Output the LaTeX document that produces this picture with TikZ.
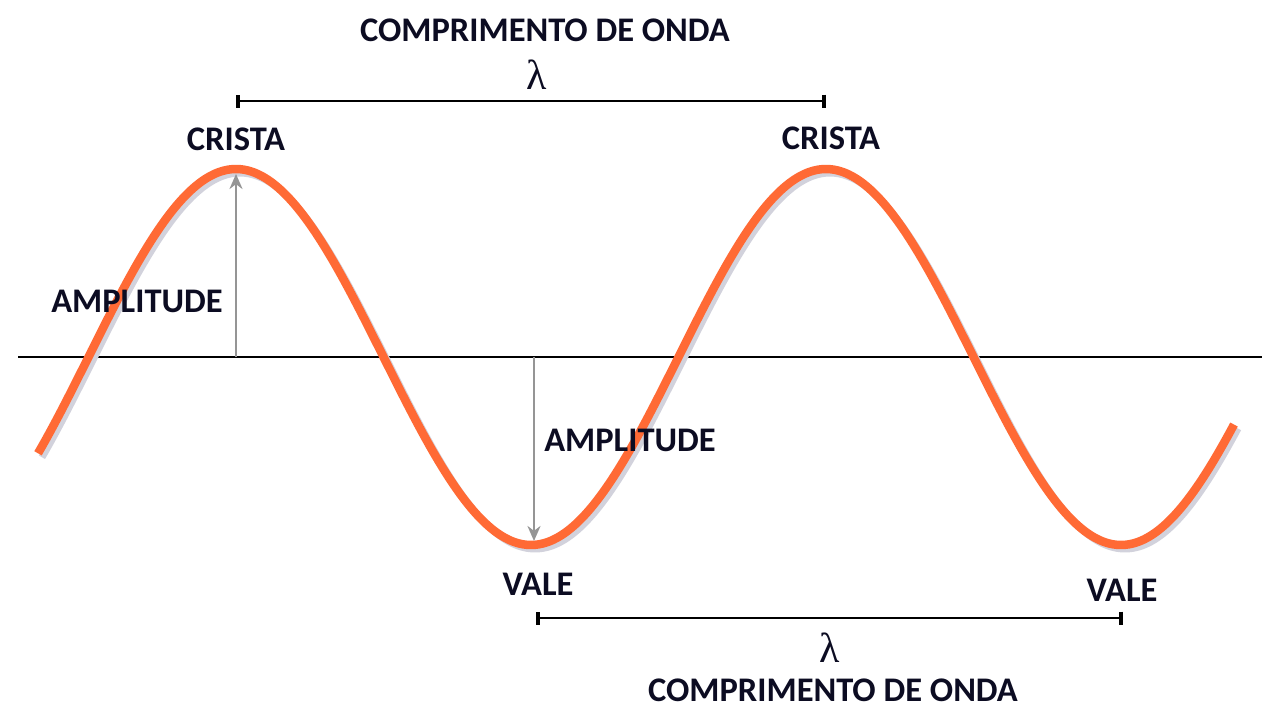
\documentclass[tikz,border=0pt]{standalone}
\usepackage{fontspec}
\setmainfont{Carlito}
\newfontfamily\lamfont{Liberation Serif}
\usetikzlibrary{arrows.meta}
\definecolor{waveorange}{HTML}{FF6A35}
\definecolor{txt}{HTML}{0C0C22}
\definecolor{arrowgray}{HTML}{959595}
\definecolor{shadowgray}{HTML}{D2D2DC}
\begin{document}
\begin{tikzpicture}[x=1pt,y=-1pt,
  lbl/.style={font=\fontsize{34.5}{38}\selectfont\bfseries, text=txt, inner sep=0pt},
  lam/.style={font=\fontsize{42}{46}\selectfont\lamfont, text=txt, inner sep=0pt},
  ampArrow/.style={draw=arrowgray, line width=2.6pt, -{Stealth[length=15pt,width=13pt]}},
  barline/.style={draw=black, line width=2.4pt, {Bar[width=13pt,line width=4pt]}-{Bar[width=13pt,line width=4pt]}},
  wave/.style={draw=waveorange, line width=8.5pt},
  waveshadow/.style={draw=shadowgray, line width=7pt}
]
\useasboundingbox (0,0) rectangle (1280,720);
\fill[white] (0,0) rectangle (1280,720);

% axis
\coordinate (axL) at (18,357);
\coordinate (axR) at (1262,357);
\draw[line width=2pt] (axL) -- (axR);

% wave shadow and wave
\draw[waveshadow] plot[domain=38:1234, samples=240, smooth] ({\x+4}, {361-188*cos(0.610169*(\x-236))});
\draw[wave] plot[domain=38:1234, samples=240, smooth] (\x, {357-188*cos(0.610169*(\x-236))});

% amplitude arrows
\coordinate (a1) at (236,357);
\coordinate (c1) at (236,174);
\coordinate (a2) at (534,357);
\coordinate (t1) at (534,541);
\draw[ampArrow] (a1) -- (c1);
\draw[ampArrow] (a2) -- (t1);

% wavelength bars
\coordinate (b1L) at (236,101);
\coordinate (b1R) at (826,101);
\coordinate (b2L) at (536,618);
\coordinate (b2R) at (1123,618);
\draw[barline] (b1L) -- (b1R);
\draw[barline] (b2L) -- (b2R);

% labels
\node[lbl] (title1) at (545,30) {COMPRIMENTO DE ONDA};
\node[lam] (lam1) at (537,75) {λ};
\node[lbl] (crista1) at (236,139) {CRISTA};
\node[lbl] (crista2) at (831,138) {CRISTA};
\node[lbl] (amp1) at (137,301) {AMPLITUDE};
\node[lbl] (amp2) at (630,440) {AMPLITUDE};
\node[lbl] (vale1) at (538,584) {VALE};
\node[lbl] (vale2) at (1122,590) {VALE};
\node[lam] (lam2) at (830,648) {λ};
\node[lbl] (title2) at (833,690) {COMPRIMENTO DE ONDA};
\end{tikzpicture}
\end{document}
